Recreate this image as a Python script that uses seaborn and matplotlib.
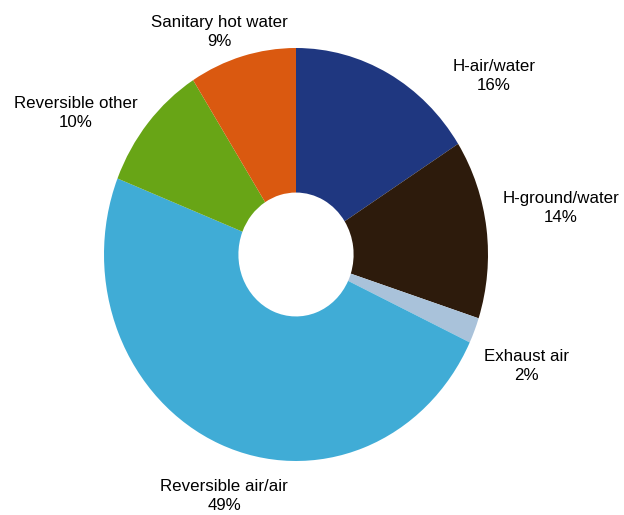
import matplotlib
matplotlib.use("Agg")
import matplotlib.pyplot as plt
import seaborn as sns

# Heat pump sales by type (share, %)
categories = ["H-air/water", "H-ground/water", "Exhaust air",
              "Reversible air/air", "Reversible other", "Sanitary hot water"]
shares = [16, 14, 2, 49, 10, 9]
colors = ["#1F3780", "#2D1B0C", "#A9C2DA", "#40ACD6", "#68A516", "#DA5910"]

sns.set_theme(style="white")
plt.rcParams["font.family"] = ["Liberation Sans", "DejaVu Sans"]

W, H = 624, 515
fig = plt.figure(figsize=(W / 100, H / 100), dpi=100)
fig.patch.set_facecolor("white")

# Donut occupies a slightly tall ellipse
ax = fig.add_axes([104 / W, (H - 461) / H, 384 / W, 413 / H])
palette = sns.color_palette(colors)
ax.pie(shares, colors=palette, startangle=90, counterclock=False,
       radius=1.0, wedgeprops=dict(width=0.70, linewidth=0))
ax.set_aspect("auto")
ax.set_xlim(-1, 1)
ax.set_ylim(-1, 1)
ax.axis("off")

# Label anchor points (pixel centres of each two-line label)
label_pos = {
    "H-air/water": (494, 76),
    "H-ground/water": (561, 208),
    "Exhaust air": (526, 366),
    "Reversible air/air": (224, 496),
    "Reversible other": (76, 113),
    "Sanitary hot water": (219, 32),
}
for name, val in zip(categories, shares):
    px, py = label_pos[name]
    fig.text(px / W, 1 - py / H, f"{name}\n{val}%", ha="center", va="center",
             multialignment="center", fontsize=12.2, color="#000000",
             linespacing=1.3)

fig.savefig("out.png", dpi=100, facecolor="white")
